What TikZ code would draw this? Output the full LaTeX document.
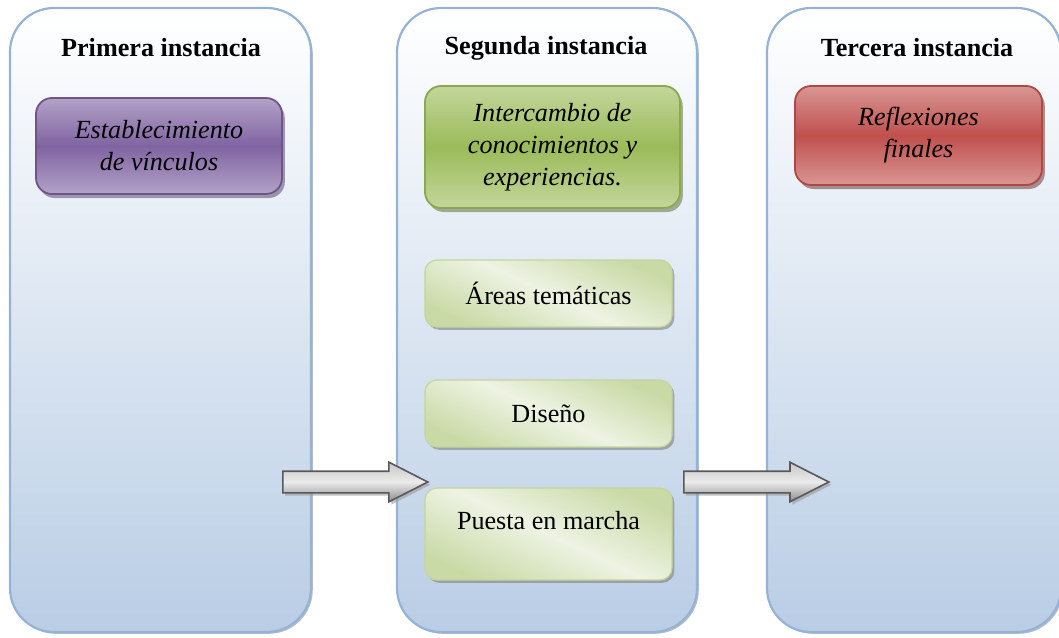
\documentclass[tikz,border=0pt]{standalone}
\usepackage{fontspec}
\setmainfont{Liberation Serif}
\usetikzlibrary{shapes.arrows,shadows}

\definecolor{colline}{HTML}{95B3D7}
\definecolor{colfill}{HTML}{B9CDE5}
\definecolor{purplelight}{HTML}{B3A2C7}
\definecolor{purplemid}{HTML}{8064A2}
\definecolor{greenlight}{HTML}{C3D69B}
\definecolor{greenmid}{HTML}{9BBB59}
\definecolor{redlight}{HTML}{D99694}
\definecolor{redmid}{HTML}{C0504D}
\definecolor{paledark}{HTML}{C9DAA6}
\definecolor{palelight}{HTML}{EEF3E3}

\tikzset{
  column/.style={draw=colline, line width=0.55mm, rounded corners=11mm,
    top color=white, bottom color=colfill, minimum height=156mm,
    drop shadow={shadow xshift=0.45mm, shadow yshift=-0.45mm, fill=colline!60!black, opacity=0.45}},
  head/.style={font=\fontsize{18.6}{22.7}\selectfont\bfseries},
  bigbox/.style={line width=0.45mm, rounded corners=4mm, align=center,
    font=\fontsize{18.6}{22.7}\selectfont\itshape},
  lightbox/.style={draw=greenlight, line width=0.3mm, rounded corners=3mm,
    top color=paledark, bottom color=paledark, middle color=palelight, shading angle=-25,
    minimum width=61.75mm, minimum height=16.75mm,
    font=\fontsize{18.6}{22.7}\selectfont,
    drop shadow={shadow xshift=0.6mm, shadow yshift=-0.7mm, fill=black!50, opacity=0.6}},
  blockarrow/.style={single arrow, draw=black!65, line width=0.4mm,
    top color=black!22, bottom color=black!45, middle color=white!92!black,
    minimum height=36.25mm, minimum width=9.5mm, inner xsep=0pt, inner ysep=2.5mm,
    single arrow head extend=2.25mm, single arrow tip angle=54, single arrow head indent=0pt,
    drop shadow={shadow xshift=0.6mm, shadow yshift=-0.7mm, fill=black!40, opacity=0.6}}
}

\begin{document}
\begin{tikzpicture}[x=0.25mm, y=-0.25mm]
	\useasboundingbox (0,0) rectangle (1059,637);
	% columns
	\node[column, minimum width=75.25mm] (col1) at (160.5,320) {};
	\node[column, minimum width=75mm] (col2) at (547,320) {};
	\node[column, minimum width=73.5mm] (col3) at (914,320) {};
	\node[head] (h1) at (161,48) {Primera instancia};
	\node[head] (h2) at (546,48) {Segunda instancia};
	\node[head] (h3) at (917,48) {Tercera instancia};
	% stages
	\node[bigbox, draw=purplemid!85!black, top color=purplelight, bottom color=purplelight, middle color=purplemid,
		minimum width=61.5mm, minimum height=24mm,
		drop shadow={shadow xshift=0.7mm, shadow yshift=-1mm, fill=purplemid!60!black}] (est) at (159,146) {Establecimiento\\de vínculos};
	\node[bigbox, draw=greenmid!90!black, top color=greenlight, bottom color=greenlight, middle color=greenmid,
		minimum width=63.75mm, minimum height=30.5mm,
		drop shadow={shadow xshift=0.7mm, shadow yshift=-1mm, fill=greenmid!55!black}] (inter) at (552.5,147) {Intercambio de\\conocimientos y\\experiencias.};
	\node[bigbox, draw=redmid!90!black, top color=redlight, bottom color=redlight, middle color=redmid,
		minimum width=61.75mm, minimum height=24.75mm,
		drop shadow={shadow xshift=0.7mm, shadow yshift=-1mm, fill=redmid!50!black}] (refl) at (918.5,135.5) {Reflexiones\\finales};
	\node[lightbox] (areas) at (548.5,293.5) {Áreas temáticas};
	\node[lightbox] (dis) at (548.5,413.5) {Diseño};
	\node[lightbox, minimum height=23mm, text depth=7mm] (pue) at (548.5,534) {Puesta en marcha};
	% arrows
	\node[blockarrow, anchor=tail] (ar1) at (282,482) {};
	\node[blockarrow, anchor=tail] (ar2) at (683,482) {};
\end{tikzpicture}
\end{document}
